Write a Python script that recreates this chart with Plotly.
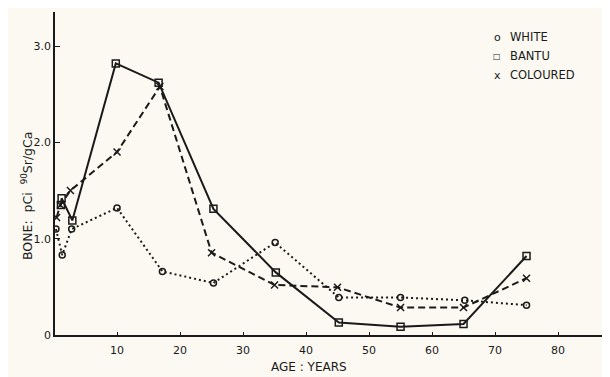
import plotly.graph_objects as go

# Data
white_age = [0.3, 1.3, 2.8, 10, 17.2, 25.3, 35.1, 45.2, 55, 65.2, 75]
white_val = [1.10, 0.83, 1.10, 1.32, 0.66, 0.54, 0.96, 0.39, 0.39, 0.36, 0.31]

bantu_age = [1.1, 1.2, 2.9, 9.8, 16.6, 25.3, 35.2, 45.2, 55, 65, 75]
bantu_val = [1.35, 1.42, 1.19, 2.82, 2.62, 1.31, 0.65, 0.13, 0.086, 0.114, 0.82]

col_age = [0.4, 1.0, 2.6, 10, 16.8, 25, 35, 45, 55, 65, 75]
col_val = [1.22, 1.35, 1.50, 1.90, 2.58, 0.855, 0.52, 0.495, 0.285, 0.285, 0.59]

x_ticks = [10, 20, 30, 40, 50, 60, 70, 80]
y_ticks = [0, 1, 2, 3]
y_tick_text = ["0", "1.0", "2.0", "3.0"]

legend_labels = ["WHITE", "BANTU", "COLOURED"]
legend_symbols = ["o", "\u25a1", "x"]

BG = "#fbf9f1"
INK = "#1a1a1a"
FONT = "DejaVu Sans"

fig = go.Figure()
fig.add_trace(go.Scatter(
    x=white_age, y=white_val, mode="lines+markers",
    line=dict(color=INK, width=2, dash="2px,3px"),
    marker=dict(symbol="circle-open", size=6, color=INK, line=dict(width=1.5)),
    showlegend=False))
fig.add_trace(go.Scatter(
    x=bantu_age, y=bantu_val, mode="lines+markers",
    line=dict(color=INK, width=2),
    marker=dict(symbol="square-open", size=7, color=INK, line=dict(width=1.5)),
    showlegend=False))
fig.add_trace(go.Scatter(
    x=col_age, y=col_val, mode="lines+markers",
    line=dict(color=INK, width=2, dash="7px,4px"),
    marker=dict(symbol="x-thin-open", size=7, color=INK, line=dict(width=1.5, color=INK)),
    showlegend=False))

# page has an 8px body margin: compensate so the window picture lines up
OFF = 8
W, H = 610, 377
L, T = 55 - OFF, 12 - OFF
R = OFF
B = H - (335 - OFF)
pw, ph = W - L - R, H - T - B

def px(xp):
    return (xp - OFF - L) / pw

def py(yp):
    return (H - B - (yp - OFF)) / ph

ann = []
for i, (s, lab) in enumerate(zip(legend_symbols, legend_labels)):
    yy = 37 + i * 19
    ann.append(dict(xref="paper", yref="paper", x=px(497), y=py(yy), xanchor="center",
                    yanchor="middle", showarrow=False,
                    text=s, font=dict(family=FONT, size=8 if s == "\u25a1" else 11, color=INK)))
    ann.append(dict(xref="paper", yref="paper", x=px(508), y=py(yy), xanchor="left",
                    yanchor="middle", showarrow=False,
                    text=lab, font=dict(family=FONT, size=11.5, color=INK)))
ann.append(dict(xref="paper", yref="paper", x=px(309), y=py(367), xanchor="center",
                yanchor="middle", showarrow=False, text="AGE : YEARS",
                font=dict(family=FONT, size=12, color=INK)))
ann.append(dict(xref="paper", yref="paper", x=px(27), y=py(196), xanchor="center",
                yanchor="middle", showarrow=False, textangle=-90,
                text="BONE:  pCi  <sup>90</sup>Sr/gCa",
                font=dict(family=FONT, size=12.5, color=INK)))

fig.update_layout(
    width=W, height=H, margin=dict(l=L, r=R, t=T, b=B, autoexpand=False),
    paper_bgcolor=BG, plot_bgcolor=BG,
    font=dict(family=FONT, size=11, color=INK),
    annotations=ann,
    xaxis=dict(range=[0.15, 88.25], tickvals=x_ticks, ticks="inside", ticklen=3,
               tickcolor=INK, showgrid=False, zeroline=False, showline=True,
               linecolor=INK, linewidth=2, tickfont=dict(size=11),
               ticklabelstandoff=4),
    yaxis=dict(range=[0, 3.354], tickvals=y_ticks, ticktext=y_tick_text,
               ticks="inside", ticklen=5, tickcolor=INK, showgrid=False,
               zeroline=False, showline=True, linecolor=INK, linewidth=1.5,
               tickfont=dict(size=11)),
)

fig.write_html("out.html")
